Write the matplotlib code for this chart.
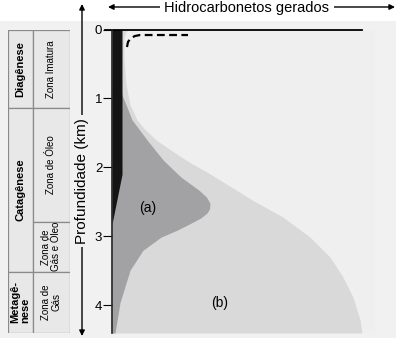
import matplotlib
matplotlib.use("Agg")
import matplotlib.pyplot as plt
from matplotlib.patches import Rectangle

plt.rcParams["font.family"] = ["Liberation Sans", "DejaVu Sans"]

# ---- data (depth in km, hydrocarbon amount in arbitrary units 0-100) ----
depth_total = [0.0, 0.03, 0.10, 0.15, 0.44, 0.80, 1.09, 1.31, 1.45, 1.60, 1.75,
               1.93, 2.05, 2.20, 2.47, 2.72, 3.01, 3.30, 3.59, 3.88, 4.21, 4.40]
gas_total = [7.2, 5.6, 4.9, 4.7, 4.8, 5.6, 7.2, 10.0, 13.2, 17.6, 23.6,
             31.2, 37.2, 44.0, 56.0, 68.4, 79.2, 87.2, 92.4, 96.4, 99.2, 100.0]

depth_oil = [0.90, 0.95, 1.09, 1.31, 1.60, 1.89, 2.14, 2.33, 2.43, 2.52, 2.60,
             2.66, 2.73, 2.80, 2.91, 3.01, 3.20, 3.49, 3.96, 4.40]
oil = [3.6, 4.0, 5.6, 8.0, 14.0, 20.4, 27.6, 34.8, 37.8, 39.2, 39.0,
       38.0, 35.6, 32.0, 26.0, 19.6, 12.4, 7.2, 3.2, 1.2]

depth_bio = [0.0, 2.1, 2.82]
bio = [4.0, 4.0, 0.0]

dash_depth = [0.254, 0.18, 0.123, 0.094, 0.08, 0.08]
dash_val = [6.0, 6.4, 7.6, 9.2, 11.2, 30.4]

depth_ticks = [0, 1, 2, 3, 4]

stages = ["Diagênese", "Catagênese", "Metagê-\nnese"]
stage_edges = [0.0, 1.14, 3.51, 4.4]
zones = ["Zona Imatura", "Zona de Óleo", "Zona de\nGás e Óleo", "Zona de\nGás"]
zone_edges = [0.0, 1.14, 2.79, 3.51, 4.4]

# ---- figure ----
W, H = 396, 338
fig = plt.figure(figsize=(W / 100, H / 100), dpi=100, facecolor="#f1f1f1")

# overlay in pixel coordinates for the frame decorations
ov = fig.add_axes([0, 0, 1, 1], zorder=-1)
ov.set_xlim(0, W)
ov.set_ylim(H, 0)
ov.axis("off")
ov.add_patch(Rectangle((0, 0), W, 21, color="white", lw=0))

arrow = dict(arrowstyle="<|-|>", lw=1.0, color="black", mutation_scale=8,
             shrinkA=0, shrinkB=0)
ov.annotate("", xy=(82, 4), xytext=(82, 336), arrowprops=arrow)
ov.text(82, 181, "Profundidade (km)", rotation=90, ha="center", va="center",
        fontsize=11, bbox=dict(facecolor="#f1f1f1", edgecolor="none", pad=2))
ov.annotate("", xy=(108, 7), xytext=(395, 7), arrowprops=arrow)
ov.text(247, 8, "Hidrocarbonetos gerados", ha="center", va="center",
        fontsize=10.5, bbox=dict(facecolor="white", edgecolor="none", pad=3))

# main plot
top_px, bot_px = 29.5, 333
ax = fig.add_axes([112 / W, 1 - bot_px / H, (375 - 112) / W, (bot_px - top_px) / H],
                  zorder=1)
ax.set_facecolor("#efefef")
ax.set_xlim(0, (375 - 112) / 2.5)
ax.set_ylim(4.4, 0)

ax.fill_betweenx(depth_total, 0, gas_total, color="#d9d9d9", lw=0)
ax.fill_betweenx(depth_oil, 0, oil, color="#a2a2a4", lw=0)
ax.fill_betweenx(depth_bio, 0, bio, color="#141414", lw=0)
ax.plot(dash_val, dash_depth, color="black", lw=1.6, ls=(0, (3.5, 2)))
ax.plot([-2.8, 100], [0, 0], color="black", lw=1.3, clip_on=False)

ax.text(14.4, 2.59, "(a)", fontsize=10, ha="center", va="center")
ax.text(43.2, 3.97, "(b)", fontsize=10, ha="center", va="center")

for s in ["top", "right", "bottom"]:
    ax.spines[s].set_visible(False)
ax.spines["left"].set_color("#222222")
ax.spines["left"].set_linewidth(1.2)
ax.set_xticks([])
ax.set_yticks(depth_ticks)
ax.tick_params(axis="y", length=6.5, width=0.8, pad=0.5, labelsize=9.5)

# stage / zone table sharing the depth scale
tb = fig.add_axes([8 / W, 1 - bot_px / H, (70 - 8) / W, (bot_px - top_px) / H],
                  zorder=1)
tb.set_xlim(0, 1)
tb.set_ylim(4.4, 0)
tb.axis("off")
split = 0.403
for name, d0, d1 in zip(stages, stage_edges[:-1], stage_edges[1:]):
    tb.add_patch(Rectangle((0, d0), split, d1 - d0, facecolor="#e8e8e8",
                           edgecolor="#8a8a8a", lw=0.9))
    tb.text(split / 2, (d0 + d1) / 2, name, rotation=90, ha="center", va="center",
            fontsize=8, fontweight="bold", multialignment="left", linespacing=0.95)
for name, d0, d1 in zip(zones, zone_edges[:-1], zone_edges[1:]):
    tb.add_patch(Rectangle((split, d0), 1 - split, d1 - d0, facecolor="#e8e8e8",
                           edgecolor="#8a8a8a", lw=0.9))
    tb.text((1 + split) / 2, (d0 + d1) / 2, name, rotation=90, ha="center",
            va="center", fontsize=7, multialignment="center", linespacing=1.0)

fig.savefig("out.png", dpi=100, facecolor=fig.get_facecolor())
